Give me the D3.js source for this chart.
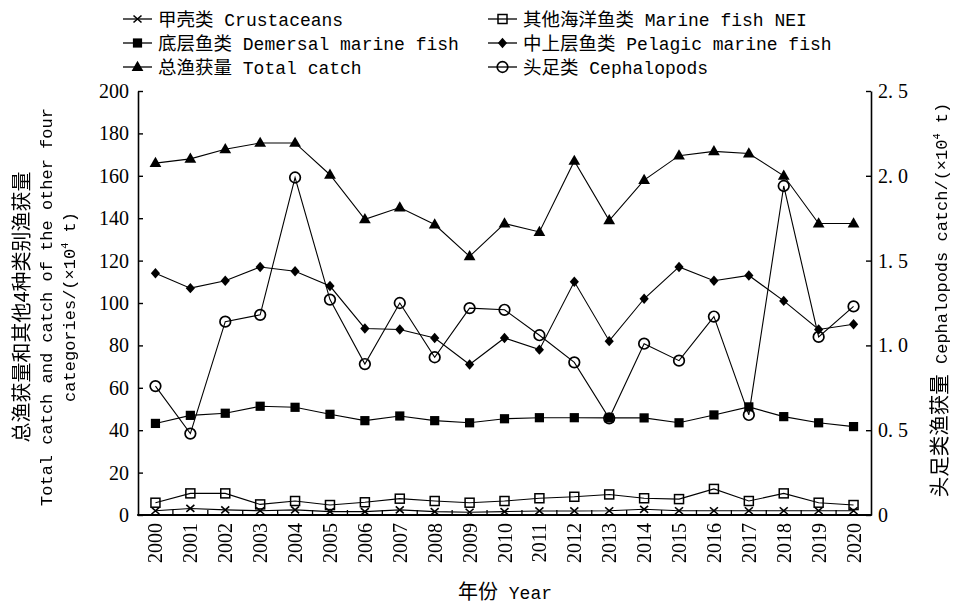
<!DOCTYPE html>
<html><head><meta charset="utf-8">
<script src="https://cdn.jsdelivr.net/npm/d3@7"></script>
<style>body{margin:0;background:#fff}svg{display:block}</style>
</head><body>
<svg id="c" width="956" height="604"></svg>
<script>
// ---------- data ----------
const years = [2000,2001,2002,2003,2004,2005,2006,2007,2008,2009,2010,2011,2012,2013,2014,2015,2016,2017,2018,2019,2020];
const totalCatch  = [166,168,172.5,175.5,175.5,160.5,139.5,145,137,122,137.5,133.5,167,139,158,169.5,171.5,170.5,160,137.5,137.5];
const pelagic     = [114,107,110.5,117,115,108,88,87.5,83.5,71,83.5,78,110,82,102,117,110.5,113,101,87.5,90];
const demersal    = [43.2,47,48,51.3,50.8,47.5,44.5,46.7,44.5,43.5,45.4,45.9,45.9,45.8,45.8,43.5,47.2,51,46.4,43.5,41.7];
const marineNEI   = [5.8,10.2,10.2,5,6.6,4.7,6,7.7,6.6,5.8,6.6,7.9,8.6,9.7,7.9,7.5,12.3,6.6,10.2,5.8,4.7];
const crustaceans = [2,3.1,2.4,2,2.4,1.6,1.6,2.4,1.6,1.3,1.6,1.9,1.9,2,2.7,2,2,2,2,2,2];
const cephalopods = [0.76,0.48,1.14,1.18,1.99,1.27,0.89,1.25,0.93,1.22,1.21,1.06,0.9,0.57,1.01,0.91,1.17,0.59,1.94,1.05,1.23];
const leftTicks  = [0,20,40,60,80,100,120,140,160,180,200];
const rightTicks = [0,0.5,1.0,1.5,2.0,2.5];
const legendItems = [
  {zh:"甲壳类", en:"Crustaceans", key:"cross"},
  {zh:"其他海洋鱼类", en:"Marine fish NEI", key:"osquare"},
  {zh:"底层鱼类", en:"Demersal marine fish", key:"square"},
  {zh:"中上层鱼类", en:"Pelagic marine fish", key:"diamond"},
  {zh:"总渔获量", en:"Total catch", key:"triangle"},
  {zh:"头足类", en:"Cephalopods", key:"circle"}
];

// ---------- layout ----------
const svg = d3.select("#c");
svg.append("defs").append("filter").attr("id","gray")
  .append("feColorMatrix").attr("type","saturate").attr("values",0);
const L = 138, R = 871, T = 91, B = 515;
const x = d3.scaleLinear().domain([years[0]-0.5, years[years.length-1]+0.5]).range([L, R]);
const yL = d3.scaleLinear().domain([0,200]).range([B,T]);
const yR = d3.scaleLinear().domain([0,2.5]).range([B,T]);
const ZH = "'Noto Sans CJK SC'";
const MONO = "'Liberation Mono', 'Noto Sans CJK SC'";
const SERIF = "'Liberation Serif', 'DejaVu Serif', serif";

// markers
function marker(g, key) {
  if (key === "triangle") {
    g.append("path").attr("d", d3.symbol(d3.symbolTriangle, 60)()).attr("fill","#000").attr("transform","translate(0,0.5)");
  } else if (key === "diamond") {
    g.append("path").attr("d","M0,-5.2L4.6,0L0,5.2L-4.6,0Z").attr("fill","#000");
  } else if (key === "square") {
    g.append("rect").attr("x",-4.6).attr("y",-4.6).attr("width",9.2).attr("height",9.2).attr("fill","#000");
  } else if (key === "osquare") {
    g.append("rect").attr("x",-4.5).attr("y",-4.5).attr("width",9).attr("height",9).attr("fill","none").attr("stroke","#000").attr("stroke-width",1.5);
  } else if (key === "circle") {
    g.append("circle").attr("r",5.3).attr("fill","none").attr("stroke","#000").attr("stroke-width",1.7);
  } else if (key === "cross") {
    g.append("path").attr("d","M-4,-3.5L4,3.5M-4,3.5L4,-3.5").attr("stroke","#000").attr("stroke-width",1.6).attr("fill","none");
  }
}

const series = [
  {vals: crustaceans, key:"cross", y:yL},
  {vals: marineNEI, key:"osquare", y:yL},
  {vals: demersal, key:"square", y:yL},
  {vals: pelagic, key:"diamond", y:yL},
  {vals: totalCatch, key:"triangle", y:yL},
  {vals: cephalopods, key:"circle", y:yR}
];

// ---------- axes ----------
const gl = svg.append("g").attr("transform",`translate(${L},0)`)
  .call(d3.axisLeft(yL).tickValues(leftTicks).tickSize(-5).tickSizeOuter(0).tickPadding(9).tickFormat(d3.format("d")));
const gr = svg.append("g").attr("transform",`translate(${R},0)`)
  .call(d3.axisRight(yR).tickValues(rightTicks).tickSize(-5).tickSizeOuter(0).tickPadding(7)
    .tickFormat(d => d === 0 ? "0" : d3.format(".1f")(d).replace(".", ". ")));
[gl, gr].forEach(g => {
  g.select(".domain").attr("stroke","#000").attr("stroke-width",1.6);
  g.selectAll(".tick line").attr("stroke","#000").attr("stroke-width",1.4);
  g.selectAll(".tick text").attr("font-family",SERIF).attr("font-size",20).attr("fill","#000");
});

// bottom axis
const gb = svg.append("g").attr("transform",`translate(0,${B})`);
gb.append("line").attr("x1",L-0.8).attr("x2",R+0.8).attr("y1",0).attr("y2",0).attr("stroke","#000").attr("stroke-width",2.2);
gb.selectAll("line.b").data(years.slice(0,-1)).enter().append("line").attr("class","b")
  .attr("x1",d=>x(d+0.5)).attr("x2",d=>x(d+0.5)).attr("y1",0).attr("y2",-5).attr("stroke","#000").attr("stroke-width",1.3);
gb.append("g").attr("filter","url(#gray)").selectAll("text").data(years).enter().append("text")
  .attr("transform",d=>`translate(${x(d)},8) rotate(-90)`)
  .attr("text-anchor","end").attr("dy","0.35em")
  .attr("font-family",SERIF).attr("font-size",20).attr("fill","#000")
  .text(d=>d);

// ---------- series ----------
series.forEach(s => {
  const line = d3.line().x((d,i)=>x(years[i])).y(d=>s.y(d));
  svg.append("path").attr("d", line(s.vals)).attr("fill","none").attr("stroke","#000").attr("stroke-width",1.1);
});
series.forEach(s => {
  s.vals.forEach((v,i) => {
    const g = svg.append("g").attr("transform",`translate(${x(years[i])},${s.y(v)})`);
    marker(g, s.key);
  });
});

// ---------- legend ----------
const colX = [123, 488], rowY = [19, 43, 67];
legendItems.forEach((it, i) => {
  const cx = colX[i % 2], cy = rowY[Math.floor(i/2)];
  const g = svg.append("g").attr("transform",`translate(${cx},${cy})`);
  g.append("line").attr("x1",0).attr("x2",29).attr("y1",0).attr("y2",0).attr("stroke","#000").attr("stroke-width",1.3);
  const mg = g.append("g").attr("transform","translate(14.5,0)");
  marker(mg, it.key);
  const t = g.append("text").attr("x",35).attr("y",6.5).attr("fill","#000").attr("xml:space","preserve");
  t.append("tspan").attr("font-family",ZH).attr("font-size",18.5).text(it.zh);
  t.append("tspan").attr("font-family",MONO).attr("font-size",18).text(" " + it.en);
});

// ---------- axis titles ----------
const titles = svg.append("g").attr("filter","url(#gray)");
function titleText(sel, zh, en, zhSize, enSize) {
  sel.attr("xml:space","preserve");
  if (zh) sel.append("tspan").attr("font-family",ZH).attr("font-size",zhSize).text(zh);
  en.forEach(p => {
    if (p.sup) sel.append("tspan").attr("font-family",MONO).attr("font-size",enSize*0.6).attr("dy",-7).text(p.t);
    else if (p.after) sel.append("tspan").attr("font-family",MONO).attr("font-size",enSize).attr("dy",7).text(p.t);
    else sel.append("tspan").attr("font-family",MONO).attr("font-size",enSize).text(p.t);
  });
}
const ly = 307;
const lt1 = titles.append("text").attr("transform",`translate(29,${ly}) rotate(-90)`).attr("text-anchor","middle").attr("fill","#000");
titleText(lt1, "总渔获量和其他4种类别渔获量", [], 20, 17);
const lt2 = titles.append("text").attr("transform",`translate(52,${ly}) rotate(-90)`).attr("text-anchor","middle").attr("fill","#000");
titleText(lt2, null, [{t:"Total catch and catch of the other four"}], 20, 17);
const lt3 = titles.append("text").attr("transform",`translate(75,${ly}) rotate(-90)`).attr("text-anchor","middle").attr("fill","#000");
titleText(lt3, null, [{t:"categories/(×10"},{t:"4",sup:true},{t:" t)",after:true}], 20, 17);

const rt = titles.append("text").attr("transform",`translate(947,300) rotate(-90)`).attr("text-anchor","middle").attr("fill","#000");
titleText(rt, "头足类渔获量", [{t:" Cephalopods catch/(×10"},{t:"4",sup:true},{t:" t)",after:true}], 20.5, 17);

const xt = svg.append("text").attr("x",505).attr("y",599).attr("text-anchor","middle").attr("fill","#000");
titleText(xt, "年份", [{t:" Year"}], 20, 18);
</script>
</body></html>
